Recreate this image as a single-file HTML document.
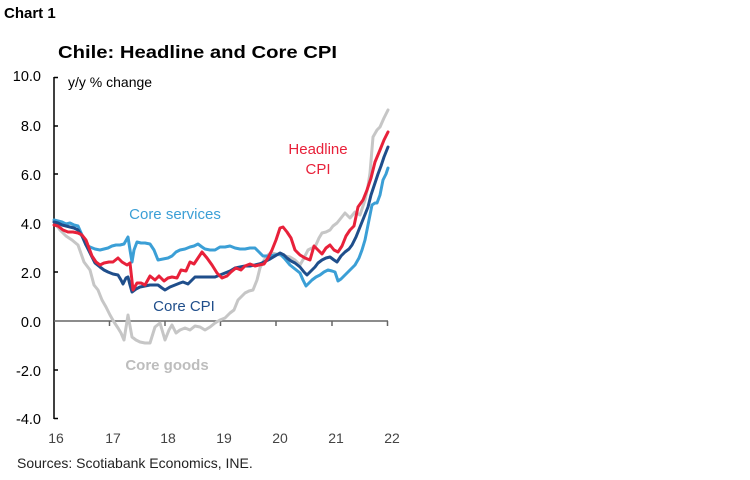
<!DOCTYPE html>
<html><head><meta charset="utf-8"><style>
html,body{margin:0;padding:0;background:#fff;}
svg{display:block;font-family:"Liberation Sans",Arial,sans-serif;}
</style></head><body>
<svg width="750" height="480" viewBox="0 0 750 480" xmlns="http://www.w3.org/2000/svg">
<text x="4" y="18" font-size="15" font-weight="bold" fill="#000">Chart 1</text>
<text x="58" y="58" font-size="17.5" font-weight="bold" fill="#000" textLength="279" lengthAdjust="spacingAndGlyphs">Chile: Headline and Core CPI</text>
<g font-size="14.5" fill="#000" text-anchor="end">
<text x="41" y="81">10.0</text>
<text x="41" y="131">8.0</text>
<text x="41" y="180">6.0</text>
<text x="41" y="229">4.0</text>
<text x="41" y="278">2.0</text>
<text x="41" y="327">0.0</text>
<text x="41" y="376">-2.0</text>
<text x="41" y="424">-4.0</text>
</g>
<text x="68" y="87" font-size="14" fill="#000">y/y % change</text>
<g stroke="#000" stroke-width="1.5" fill="none">
<line x1="54" y1="77" x2="54" y2="419"/>
<line x1="54" y1="77.5" x2="58" y2="77.5"/><line x1="54" y1="126" x2="58" y2="126"/><line x1="54" y1="174" x2="58" y2="174"/><line x1="54" y1="223" x2="58" y2="223"/><line x1="54" y1="272" x2="58" y2="272"/><line x1="54" y1="370" x2="58" y2="370"/><line x1="54" y1="418.5" x2="58" y2="418.5"/>
</g>
<g stroke="#666" stroke-width="1.5" fill="none">
<line x1="54" y1="321" x2="388" y2="321"/>
<line x1="109.5" y1="321" x2="109.5" y2="326"/><line x1="165" y1="321" x2="165" y2="326"/><line x1="220.5" y1="321" x2="220.5" y2="326"/><line x1="276" y1="321" x2="276" y2="326"/><line x1="332" y1="321" x2="332" y2="326"/><line x1="387.5" y1="321" x2="387.5" y2="326"/>
</g>
<g font-size="14" fill="#444" text-anchor="middle">
<text x="56" y="443">16</text><text x="113" y="443">17</text><text x="168" y="443">18</text><text x="224" y="443">19</text><text x="280" y="443">20</text><text x="336" y="443">21</text><text x="392" y="443">22</text>
</g>
<text x="17" y="468" font-size="14" fill="#222">Sources: Scotiabank Economics, INE.</text>
<g fill="none" stroke-width="3" stroke-linejoin="round" stroke-linecap="round">
<polyline stroke="#c6c6c6" points="54,222 60,230 66,236 72,240 78,245 84,262 90,270 94,285 98,290 102,300 106,307 110,315 114,322 118,328 121,333 124,340 128,315 132,337 136,340 140,342 145,343 150,343 155,327 160,323 165,340 169,330 172,325 176,333 180,330 185,328 190,330 195,326 200,327 205,330 210,327 215,323 220,320 225,318 230,313 234,310 238,300 242,296 245,293 249,291 253,290 257,280 260,268 263,262 266,257 269,254 272,253 276,254 280,255 285,256 290,257 295,260 300,265 304,258 308,250 312,248 315,247 319,238 322,233 326,232 330,230 333,226 337,223 341,218 345,213 350,218 355,212 360,215 365,200 368,186 370,173 373,137 377,130 380,127 384,118 388,110"/>
<polyline stroke="#3b9fd6" points="54,220 58,221 62,222 66,224 70,223 74,225 78,226 82,235 86,245 90,247 95,249 100,250 104,249 108,248 112,246 116,245 120,245 124,244 128,237 130,250 132,262 134,250 137,242 141,243 145,243 150,244 154,250 158,260 163,259 168,258 172,256 176,252 180,250 185,249 190,247 194,246 198,244 202,247 205,249 210,250 215,250 220,247 225,247 230,246 235,248 240,249 245,249 250,248 255,248 259,252 263,256 267,256 270,256 275,255 280,254 285,259 290,265 295,269 300,273 303,280 306,286 309,283 312,280 316,277 320,275 324,272 328,270 332,271 335,272 338,281 341,279 345,275 350,270 355,265 359,258 362,250 365,240 368,225 372,205 375,203 377,203 380,195 383,180 386,174 388,168"/>
<polyline stroke="#1f4e8b" points="54,222 58,223 62,225 66,226 70,227 74,228 78,230 82,236 86,245 90,253 95,263 100,267 104,270 108,272 113,274 118,275 121,280 123,284 126,278 128,277 130,285 132,292 136,289 140,287 145,286 150,285 154,285 158,285 162,288 165,290 170,287 175,285 180,283 183,282 188,284 192,280 195,277 200,277 205,277 210,277 215,277 220,275 225,273 230,271 235,268 240,267 245,266 250,266 255,265 259,264 262,263 266,261 270,259 275,256 280,253 284,255 287,258 291,261 295,263 300,267 304,272 307,275 311,271 315,267 318,263 322,260 326,258 330,257 334,260 337,262 341,256 345,252 349,249 352,245 356,237 360,227 364,217 368,207 371,195 375,183 378,174 381,166 384,157 388,147"/>
<polyline stroke="#e8213a" points="54,225 58,226 63,230 68,232 73,232 78,233 82,235 86,240 89,248 92,256 96,262 100,265 104,263 109,262 113,262 118,258 122,262 127,265 130,263 133,290 137,283 141,283 145,285 150,276 155,280 159,276 164,281 168,278 172,277 177,278 181,270 186,271 190,262 194,264 198,258 202,252 207,258 212,265 217,273 222,278 227,276 231,272 236,268 241,270 245,266 250,264 255,266 259,265 264,264 268,258 272,250 276,240 280,228 283,227 287,232 291,238 295,250 300,255 305,258 310,260 314,246 318,250 322,254 326,248 330,245 334,250 338,252 342,246 346,236 350,230 354,226 358,207 363,200 367,190 371,178 375,162 380,150 384,140 388,132"/>
</g>
<g font-size="15" text-anchor="middle">
<text x="318" y="154" fill="#e8213a">Headline</text>
<text x="318" y="174" fill="#e8213a">CPI</text>
<text x="175" y="219" fill="#3b9fd6">Core services</text>
<text x="184" y="311" fill="#1f4e8b">Core CPI</text>
<text x="167" y="370" fill="#bdbdbd" font-weight="bold">Core goods</text>
</g>
</svg>
</body></html>
